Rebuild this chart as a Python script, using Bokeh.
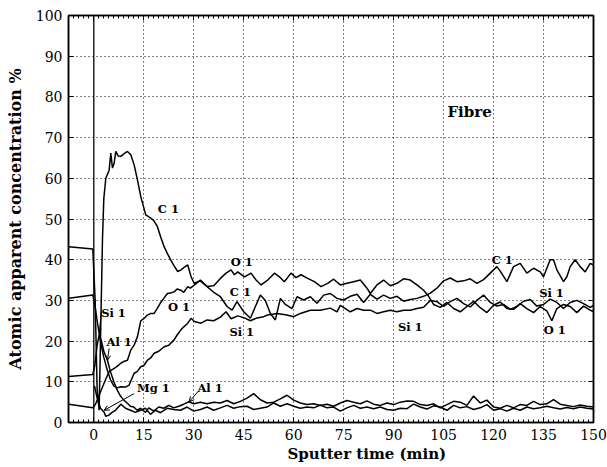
from bokeh.plotting import figure
from bokeh.models import (Range1d, LinearAxis, FixedTicker, Span, Label, Arrow, Title,
                          OpenHead, CustomJSTickFormatter)
from bokeh.embed import file_html
from bokeh.resources import INLINE

# ---------------- data ----------------
c1_x = [-7.5, -0.3, 0.4, 1.0, 1.6, 2.0, 2.6, 3.0, 3.6, 4.6, 5.1, 5.6, 6.1, 6.6, 7.3, 8.1, 9.0, 10.1,
        11.1, 12.1, 13.1, 14.1, 15.1, 15.6, 17.1, 18.1, 19.1, 20.1, 21.1, 22.1, 23.1, 24.1, 25.2,
        26.2, 27.2, 28.2, 29.2, 30.1, 32, 34, 36, 38, 40, 41.5, 43, 45, 47, 48.5, 50, 51.5, 53,
        54.5, 56, 57.5, 59.5, 61, 63, 65, 67, 69, 71, 73, 75, 77, 79, 81, 83, 85, 87, 89, 91, 93,
        95, 97, 99, 101, 103, 105, 107, 109, 111, 113, 115, 117, 119, 121, 122, 124, 126, 128,
        130, 132, 134, 135, 137, 138, 139, 141, 142, 143, 144.5, 146, 147.5, 149, 150]
c1_y = [43.2, 42.6, 30.0, 8.0, 3.0, 20.0, 45.0, 55.0, 60.0, 62.0, 66.2, 62.5, 63.7, 66.6, 65.5,
        65.4, 66.0, 66.6, 65.8, 63.3, 59.6, 55.5, 52.5, 51.0, 50.2, 49.5, 48.1, 45.5, 43.2, 41.5,
        39.9, 38.5, 37.1, 37.5, 38.2, 38.7, 35.8, 34.2, 34.8, 33.4, 32.0, 30.9, 28.5, 27.6, 29.7,
        27.2, 25.6, 28.5, 31.3, 30.0, 26.8, 25.2, 30.5, 29.0, 28.0, 30.9, 30.1, 30.9, 29.3, 31.3,
        31.7, 30.5, 30.1, 31.0, 31.5, 29.5, 31.5, 30.3, 31.3, 30.5, 31.0, 29.8, 30.2, 30.5, 31.0,
        31.8, 33.0, 34.8, 35.5, 34.6, 34.8, 35.3, 34.2, 35.1, 36.7, 38.3, 37.2, 34.6, 38.3, 39.1,
        36.7, 37.9, 37.0, 35.8, 40.0, 40.0, 37.5, 34.6, 35.8, 38.3, 40.0, 38.3, 37.0, 39.1, 38.7]

o1_x = [-7.5, -0.3, 0.5, 2.0, 3.5, 4.6, 6.1, 7.0, 8.0, 9.0, 10.1, 11.1, 12.1, 13.1, 14.1, 15.1,
        16.1, 17.1, 18.1, 19.0, 20.1, 21.0, 22.1, 23.0, 24.1, 25.0, 26.1, 27.0, 28.2, 29.0, 30.2,
        32, 34, 36, 38, 39.7, 41.2, 42.2, 43.2, 45.2, 47.2, 48.7, 50.2, 52.2, 53.2, 54.2, 55.7,
        57.2, 59.2, 60.7, 62.2, 64.2, 66.2, 68.2, 70.2, 72, 74, 76, 78, 80, 82, 83, 85, 87, 89, 91,
        93, 95, 97, 99, 100.5, 102, 104, 106, 108, 110, 112, 114, 116, 118, 120, 122, 124, 126,
        128, 130, 132, 134, 136, 137.5, 139, 141, 143, 145, 147, 149, 150]
o1_y = [4.5, 3.6, 4.5, 7.5, 10.5, 12.5, 13.3, 13.8, 14.5, 15.0, 15.3, 17.8, 19.0, 21.1, 25.0, 25.6,
        26.4, 26.8, 26.8, 28.0, 29.5, 30.5, 31.7, 31.8, 32.1, 32.8, 32.5, 32.0, 33.4, 33.0, 33.8,
        35.0, 33.4, 33.6, 35.4, 36.7, 37.5, 36.3, 37.0, 35.8, 36.7, 35.0, 33.8, 35.0, 35.8, 36.7,
        35.8, 34.6, 36.7, 35.6, 36.3, 35.4, 34.6, 33.4, 34.2, 35.2, 33.8, 34.2, 34.6, 35.0, 33.0,
        31.7, 33.8, 35.0, 33.6, 34.2, 35.3, 35.0, 33.8, 32.5, 31.0, 29.0, 28.3, 29.5, 28.0, 27.2,
        28.5, 29.8, 28.2, 27.0, 28.8, 29.6, 28.0, 27.8, 29.2, 28.0, 27.0, 28.5, 27.4, 25.0, 28.0,
        29.0, 28.5, 27.0, 28.6, 27.6, 27.2]

si1_x = [-7.5, -0.3, 0.3, 1.0, 1.6, 2.2, 3.0, 4.0, 5.0, 6.0, 7.0, 8.1, 9.5, 10.6, 12.1, 13.0, 14.1,
         15.0, 16.1, 17.0, 18.1, 19.5, 21.1, 22.5, 24.1, 25.0, 26.1, 27.0, 28.2, 29.2, 30.2, 32.2,
         34, 36, 38, 39.7, 41.2, 43.2, 45.2, 47, 49, 51, 52.2, 55, 58, 60, 62, 65, 68, 71, 73, 74,
         77, 79, 81, 83, 85, 87, 89, 91, 93, 95, 97, 99, 101, 103, 105, 107, 109, 111, 113, 115,
         117, 119, 121, 123, 125, 127, 129, 131, 133, 135, 137, 139, 141, 143, 145, 147, 149, 150]
si1_y = [30.5, 31.3, 29.0, 25.0, 21.9, 19.0, 16.0, 13.0, 10.5, 9.0, 8.5, 8.8, 8.7, 9.2, 12.1, 12.5,
         13.7, 14.0, 15.3, 15.8, 17.0, 17.5, 18.6, 19.0, 20.3, 21.5, 22.7, 23.5, 24.4, 25.6, 24.8,
         24.4, 25.2, 25.0, 25.9, 27.2, 25.5, 26.2, 25.7, 25.0, 25.7, 26.0, 26.4, 26.8, 26.4, 26.0,
         26.8, 27.6, 27.6, 28.1, 27.2, 28.8, 27.2, 28.0, 27.6, 27.6, 26.8, 27.2, 27.6, 27.2, 27.6,
         27.6, 28.0, 28.3, 30.0, 29.7, 28.5, 29.7, 30.5, 29.2, 28.4, 30.0, 31.3, 29.5, 28.6, 29.0,
         27.8, 28.5, 29.8, 30.2, 28.6, 29.0, 30.3, 29.5, 28.0, 29.5, 30.0, 29.2, 28.3, 28.8]

al1_x = [-7.5, -0.3, 0.3, 1.0, 1.6, 2.3, 3.0, 4.1, 5, 6, 7, 8, 9, 10, 11, 12, 13, 14, 15.5, 16.5, 18,
         19.5, 21, 22.5, 24, 25.5, 27, 28.6, 30, 32, 34, 36, 38, 40, 42, 44, 46, 48, 50, 52, 54,
         56, 58, 60, 62, 64, 66, 68, 70, 72, 74, 76, 78, 80, 82, 84, 86, 88, 90, 92, 94, 96, 98,
         100, 102, 104, 106, 108, 110, 112, 114, 116, 118, 120, 122, 124, 126, 128, 130, 132, 134,
         136, 138, 140, 142, 144, 146, 148, 150]
al1_y = [11.3, 11.8, 14.0, 19.0, 21.5, 20.0, 17.5, 15.3, 12.5, 10.0, 8.0, 6.5, 5.5, 4.8, 4.0, 3.8,
         3.0, 3.5, 2.5, 3.6, 2.8, 3.8, 3.5, 4.2, 3.6, 4.0, 4.5, 5.1, 4.6, 5.0, 4.6, 5.0, 4.8, 5.4,
         4.6, 5.2, 6.0, 7.1, 5.6, 4.8, 5.0, 5.8, 6.7, 5.5, 4.8, 4.4, 4.6, 4.2, 4.5, 4.0, 4.8, 5.4,
         5.0, 4.6, 5.3, 4.5, 4.2, 4.8, 4.4, 5.0, 5.3, 5.2, 4.4, 4.2, 4.6, 3.6, 4.4, 5.2, 5.0, 4.2,
         6.5, 4.8, 5.5, 3.8, 3.5, 4.2, 3.6, 4.4, 4.2, 5.2, 4.4, 4.6, 5.6, 4.5, 4.2, 3.9, 4.3, 4.0,
         3.8]

mg1_x = [0.2, 1.0, 2.0, 3.1, 3.6, 4.5, 5.5, 6.5, 8.1, 9.5, 11, 12.5, 14, 15.5, 17, 18.5, 20, 22,
         24, 26, 28, 30, 32, 34, 36, 38, 40, 42, 44, 46, 48, 50, 52, 54, 56, 58, 60, 62, 64, 66,
         68, 70, 72, 74, 76, 78, 80, 82, 84, 86, 88, 90, 92, 94, 96, 98, 100, 102, 104, 106, 108,
         110, 112, 114, 116, 118, 120, 122, 124, 126, 128, 130, 132, 134, 136, 138, 140, 142, 144,
         146, 148, 150]
mg1_y = [9.0, 6.0, 3.5, 2.5, 1.5, 1.8, 2.5, 3.0, 4.5, 3.5, 3.0, 2.5, 3.0, 3.5, 2.0, 3.0, 2.4, 3.5,
         3.2, 3.0, 3.8, 2.8, 3.2, 3.8, 3.0, 3.6, 4.2, 3.5, 3.9, 4.0, 3.2, 3.5, 3.8, 4.8, 4.0, 4.6,
         4.0, 3.5, 3.8, 3.6, 4.3, 3.6, 3.8, 2.8, 3.6, 4.2, 3.5, 3.8, 3.4, 3.8, 3.2, 3.0, 3.5, 3.4,
         4.5, 3.8, 3.3, 4.1, 3.8, 3.0, 4.2, 3.6, 3.9, 3.2, 3.6, 4.4, 3.0, 3.4, 2.8, 3.5, 3.0, 3.8,
         3.4, 3.6, 4.0, 3.6, 3.3, 3.7, 3.4, 3.8, 3.5, 3.3]

x_ticks = [0, 15, 30, 45, 60, 75, 90, 105, 120, 135, 150]
y_ticks = [0, 10, 20, 30, 40, 50, 60, 70, 80, 90, 100]

SERIF = "DejaVu Serif"

p = figure(width=607, height=467, x_range=Range1d(-7.6, 150), y_range=Range1d(0, 100),
           output_backend="svg", toolbar_location=None,
           min_border_left=68, min_border_right=14, min_border_top=15, min_border_bottom=45,
           background_fill_color="white", border_fill_color="white")

p.outline_line_color = "black"
p.outline_line_width = 1.5

minor_x = [i * 1.5 for i in range(-5, 101)]

# grids
p.xgrid.ticker = FixedTicker(ticks=x_ticks[1:-1])
p.ygrid.ticker = FixedTicker(ticks=y_ticks[1:-1])
for g in (p.xgrid, p.ygrid):
    g.grid_line_color = "black"
    g.grid_line_dash = "1 3"
    g.grid_line_width = 1

# bottom axis
xa = p.xaxis[0]
xa.ticker = FixedTicker(ticks=x_ticks, minor_ticks=minor_x)
# left axis
ya = p.yaxis[0]
ya.ticker = FixedTicker(ticks=y_ticks)
ya.axis_label = "Atomic apparent concentration %"

for ax in (xa, ya):
    ax.axis_line_color = "black"
    ax.axis_line_width = 1.5
    ax.major_tick_in = 5
    ax.major_tick_out = 0
    ax.minor_tick_in = 3
    ax.minor_tick_out = 0
    ax.major_tick_line_color = "black"
    ax.minor_tick_line_color = "black"
    ax.major_label_text_font = SERIF
    ax.major_label_text_font_size = "14px"
    ax.major_label_text_color = "black"
    ax.axis_label_text_font = SERIF
    ax.axis_label_text_font_style = "bold"
    ax.axis_label_text_color = "black"
ya.minor_tick_in = 0
xa.major_label_standoff = 6
ya.major_label_standoff = 6
ya.axis_label_standoff = 8
ya.axis_label_text_font_size = "16px"

# x-axis title (placed right of centre as in the original)
p.add_layout(Title(text="Sputter time  (min)", align="left", offset=219, standoff=0,
                   text_font=SERIF, text_font_style="bold", text_font_size="15px",
                   text_color="black"), "below")

blank = CustomJSTickFormatter(code="return ''")
top = LinearAxis(ticker=FixedTicker(ticks=x_ticks, minor_ticks=minor_x), formatter=blank,
                 major_tick_in=5, major_tick_out=0, minor_tick_in=3, minor_tick_out=0,
                 major_label_standoff=0, major_label_text_font_size="1px",
                 axis_line_width=1.5)
right = LinearAxis(ticker=FixedTicker(ticks=y_ticks), formatter=blank,
                   major_tick_in=5, major_tick_out=0, minor_tick_in=0, minor_tick_out=0,
                   major_label_standoff=0, major_label_text_font_size="1px",
                   axis_line_width=1.5)
p.add_layout(top, "above")
p.add_layout(right, "right")

# solid vertical line at the start of sputtering
p.add_layout(Span(location=0, dimension="height", line_color="black", line_width=1.3))

LW = 1.5
for xs, ys in ((c1_x, c1_y), (o1_x, o1_y), (si1_x, si1_y), (al1_x, al1_y), (mg1_x, mg1_y)):
    p.line(xs, ys, line_color="black", line_width=LW)

# labels
labels = [
    ("C 1", 22.4, 52.5), ("O 1", 44.4, 39.5), ("C 1", 44.0, 32.1), ("Si 1", 44.4, 22.3),
    ("O 1", 25.6, 28.5), ("Si 1", 5.9, 26.8), ("Al 1", 7.6, 19.8), ("Mg 1", 17.9, 8.4),
    ("Al 1", 34.9, 8.4), ("Si 1", 95.0, 23.5), ("C 1", 122.6, 40.0), ("Si 1", 137.4, 31.7),
    ("O 1", 138.4, 22.7),
]
for t, lx, ly in labels:
    p.add_layout(Label(x=lx, y=ly, text=t, text_align="center", text_baseline="middle",
                       text_font=SERIF, text_font_style="bold", text_font_size="11.5px",
                       text_color="black"))
p.add_layout(Label(x=112.8, y=76.4, text="Fibre", text_align="center", text_baseline="middle",
                   text_font=SERIF, text_font_style="bold", text_font_size="15px",
                   text_color="black"))

# leader lines
leaders = [((2.3, 27.2), (1.6, 21.9), False), ((4.6, 18.2), (4.1, 15.3), True),
           ((12.1, 7.1), (3.1, 3.0), True), ((31.2, 7.5), (28.6, 5.1), True)]
for (x0, y0), (x1, y1), head in leaders:
    p.add_layout(Arrow(x_start=x0, y_start=y0, x_end=x1, y_end=y1, line_width=1,
                       line_color="black",
                       end=OpenHead(size=5, line_width=1, line_color="black") if head else None))

open("out.html", "w").write(file_html(p, INLINE))
